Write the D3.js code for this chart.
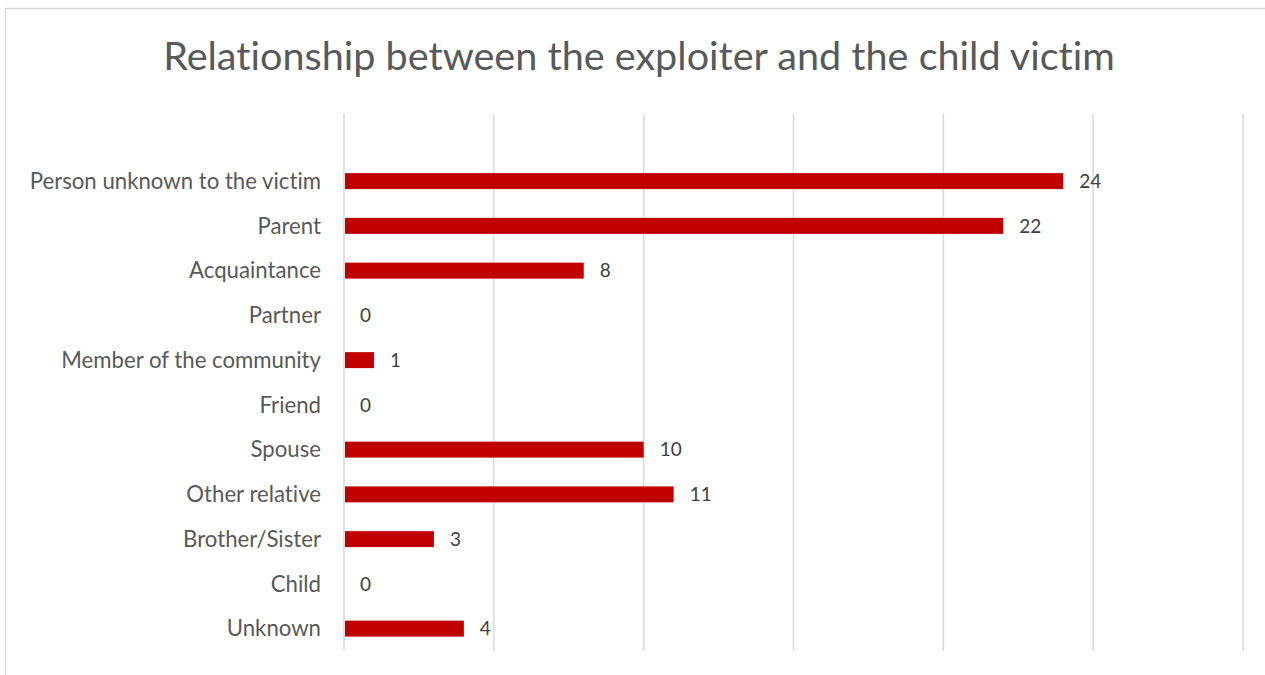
<!DOCTYPE html>
<html><head><meta charset="utf-8">
<script src="https://cdn.jsdelivr.net/npm/d3@7"></script>
<style>body{margin:0;background:#fff;} text{font-family:Lato,"Open Sans",sans-serif;font-variant-ligatures:none;font-feature-settings:"liga" 0;}</style>
</head><body><svg id="c" width="1265" height="675"></svg>
<script>
const categories = ["Person unknown to the victim","Parent","Acquaintance","Partner","Member of the community","Friend","Spouse","Other relative","Brother/Sister","Child","Unknown"];
const values = [24,22,8,0,1,0,10,11,3,0,4];
const ticks = [0,5,10,15,20,25,30];
const title = "Relationship between the exploiter and the child victim";

const svg = d3.select("#c");
svg.append("rect").attr("x",5.5).attr("y",8.5).attr("width",1300).attr("height",700)
  .attr("fill","#fff").attr("stroke","#d9d9d9").attr("stroke-width",1.5);

const x = d3.scaleLinear().domain([0,30]).range([344,1243]);
const y = d3.scaleBand().domain(["", ...categories]).range([114,651]).paddingInner(0.643).paddingOuter(0.3215);

svg.append("g").selectAll("line").data(ticks).join("line")
  .attr("x1",d=>x(d)).attr("x2",d=>x(d)).attr("y1",114).attr("y2",651)
  .attr("stroke","#d9d9d9").attr("stroke-width",1.5);

svg.append("text").attr("x",639).attr("y",70).attr("text-anchor","middle")
  .attr("font-size",39.6).attr("fill","#595959").text(title);

const bars = categories.map((c,i)=>({c,v:values[i]}));
svg.append("g").selectAll("rect").data(bars).join("rect")
  .attr("x",x(0)+1).attr("y",d=>y(d.c)).attr("height",y.bandwidth())
  .attr("width",d=>Math.max(0,x(d.v)-x(0)-1)).attr("fill","#c00000");

svg.append("g").selectAll("text").data(bars).join("text")
  .attr("x",d=>x(d.v)+16).attr("y",d=>y(d.c)+y.bandwidth()/2).attr("dy","0.35em")
  .attr("font-size",19).attr("fill","#404040").text(d=>d.v);

svg.append("g").selectAll("text").data(bars).join("text")
  .attr("x",321).attr("y",d=>y(d.c)+y.bandwidth()/2).attr("dy","0.35em")
  .attr("text-anchor","end").attr("font-size",22.2).attr("fill","#595959").text(d=>d.c);
</script></body></html>
